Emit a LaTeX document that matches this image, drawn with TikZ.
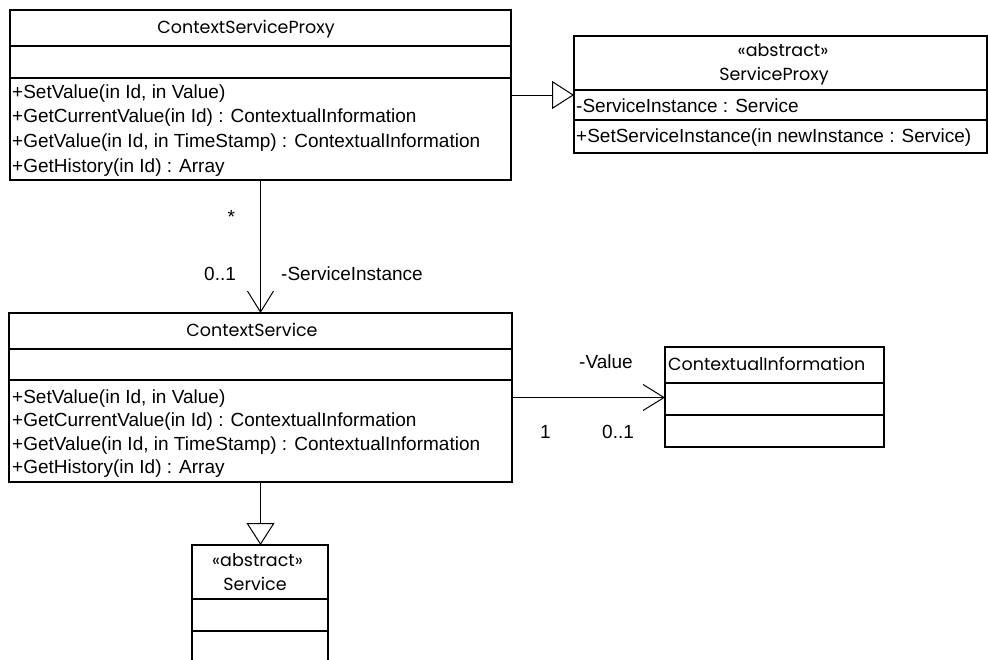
\documentclass[tikz,border=0pt]{standalone}
\usepackage{fontspec}
\setmainfont{Liberation Sans}
\newfontfamily\titlefont{Poppins}
\usetikzlibrary{arrows.meta}
\begin{document}
\begin{tikzpicture}[x=1pt,y=-1pt,
  box/.style={draw, anchor=north west, inner sep=0pt, outer sep=0pt},
  ctitle/.style={anchor=base, inner sep=0pt, font=\titlefont\fontsize{17.5}{20}\selectfont},
  member/.style={anchor=base west, inner sep=0pt, font=\fontsize{19}{23}\selectfont},
  lbl/.style={anchor=base west, inner sep=0pt, font=\fontsize{19}{23}\selectfont},
  conn/.style={line width=1pt},
  gen/.style={conn, -{Triangle[open, length=22pt, width=28pt, fill=white]}},
  nav/.style={conn, -{Straight Barb[length=21pt, width=26pt]}}]
\useasboundingbox (0,0) rectangle (988,659);
\clip (0,0) rectangle (988,659);

% ContextServiceProxy
\node[box, line width=1.6pt, minimum width=501pt, minimum height=170pt] (csp) at (10,10) {};
\draw[line width=1.6pt] (10,46) -- (511,46) (10,78) -- (511,78);
\node[ctitle] at (246,33) {ContextServiceProxy};
\node[member] at (12,98) {+SetValue(in Id, in Value)};
\node[member] at (12,122.7) {+GetCurrentValue(in Id) : ContextualInformation};
\node[member] at (12,147.3) {+GetValue(in Id, in TimeStamp) : ContextualInformation};
\node[member] at (12,172) {+GetHistory(in Id) : Array};

% ServiceProxy
\node[box, line width=1.3pt, minimum width=413pt, minimum height=117pt] (sp) at (574,36) {};
\draw[line width=1.3pt] (574,90) -- (987,90) (574,120) -- (987,120);
\node[ctitle] at (783,56) {«abstract»};
\node[ctitle] at (774,80) {ServiceProxy};
\node[member] at (576,112) {-ServiceInstance : Service};
\node[member] at (576,142) {+SetServiceInstance(in newInstance : Service)};

% ContextService
\node[box, line width=2.6pt, minimum width=503pt, minimum height=169pt] (cs) at (9,313) {};
\draw[line width=2.6pt] (9,349) -- (512,349) (9,380) -- (512,380);
\node[ctitle] at (252,336) {ContextService};
\node[member] at (12,403) {+SetValue(in Id, in Value)};
\node[member] at (12,426) {+GetCurrentValue(in Id) : ContextualInformation};
\node[member] at (12,450) {+GetValue(in Id, in TimeStamp) : ContextualInformation};
\node[member] at (12,473) {+GetHistory(in Id) : Array};

% ContextualInformation
\node[box, line width=1.2pt, minimum width=219pt, minimum height=100pt] (ci) at (665,347) {};
\draw[line width=1.2pt] (665,383) -- (884,383) (665,415) -- (884,415);
\node[ctitle, anchor=base west] at (668,370.5) {ContextualInformation};

% Service (continues below the lower edge)
\node[box, line width=1.4pt, minimum width=136pt, minimum height=160pt] (sv) at (192,545) {};
\draw[line width=1.4pt] (192,599) -- (328,599) (192,631) -- (328,631);
\node[ctitle] at (257.5,566) {«abstract»};
\node[ctitle] at (255,590) {Service};

% Relations
\draw[gen] (csp.east) -- (csp.east -| sp.west);
\draw[nav] (csp.south) -- (cs.north);
\draw[nav] (cs.east) -- (cs.east -| ci.west);
\draw[gen] (cs.south) -- (cs.south |- sv.north);

% Role names and multiplicities
\node[lbl] at (227.5,223.5) {*};
\node[lbl] at (204,280) {0..1};
\node[lbl] at (281,280) {-ServiceInstance};
\node[lbl] at (579,368) {-Value};
\node[lbl] at (540,438) {1};
\node[lbl] at (602,438) {0..1};
\end{tikzpicture}
\end{document}
